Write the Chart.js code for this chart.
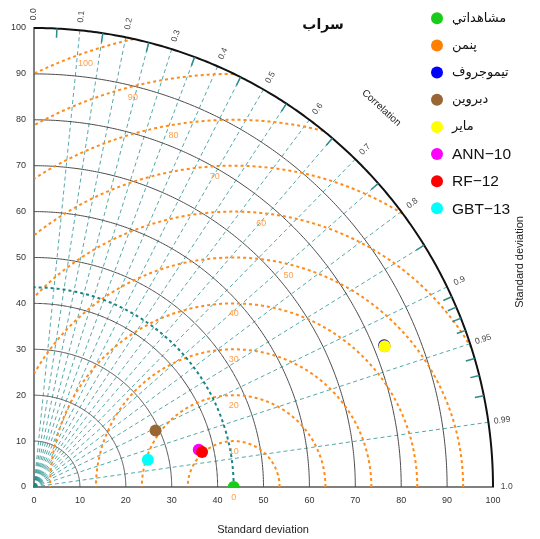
<!DOCTYPE html>
<html>
<head>
<meta charset="utf-8">
<script src="https://cdn.jsdelivr.net/npm/chart.js@4.4.1/dist/chart.umd.min.js"></script>
<style>
  html, body { margin: 0; padding: 0; background: #ffffff; }
  canvas { display: block; }
</style>
</head>
<body>
<canvas id="taylor" width="540" height="539"></canvas>
<script>
// Taylor diagram for the Sarab station: observed evaporation vs. empirical and ML models.

// ---- data ----
const seriesNames = ['مشاهداتي', 'پنمن', 'تيموجروف', 'دبروين', 'ماير', 'ANN\u221210', 'RF\u221212', 'GBT\u221213'];
const seriesColors = ['#19cc19', '#ff8000', '#0000ff', '#996633', '#ffff00', '#ff00ff', '#ff0000', '#00ffff'];
const stdDevs      = [43.5, 82.3, 82.3, 29.2, 82.3, 36.8, 37.4, 25.5];
const correlations = [1.0, 0.928, 0.927, 0.907, 0.928, 0.9755, 0.979, 0.9725];

const refStdDev = 43.5;                    // standard deviation of the observations
const maxStdDev = 100;
const sdArcValues = [10, 20, 30, 40, 50, 60, 70, 80, 90];
const rmsArcValues = [10, 20, 30, 40, 50, 60, 70, 80, 90, 100];
const rmsLabelValues = [0, 10, 20, 30, 40, 50, 60, 70, 80, 90, 100];
const corrLineValues = [0.1, 0.15, 0.2, 0.25, 0.3, 0.35, 0.4, 0.45, 0.5, 0.55, 0.6,
                        0.65, 0.7, 0.75, 0.8, 0.85, 0.9, 0.95, 0.99];
const corrTickValues = [0.05, 0.15, 0.25, 0.35, 0.45, 0.55, 0.65, 0.75, 0.85,
                        0.91, 0.92, 0.93, 0.94, 0.96, 0.97, 0.98];
const corrLabelValues = [0.0, 0.1, 0.2, 0.3, 0.4, 0.5, 0.6, 0.7, 0.8, 0.9, 0.95, 0.99, 1.0];
const corrLabelText   = ['0.0', '0.1', '0.2', '0.3', '0.4', '0.5', '0.6', '0.7', '0.8', '0.9', '0.95', '0.99', '1.0'];
const titleText = 'سراب';

// ---- layout of the RMS labels (angle around the reference point, degrees) ----
const rmsLabelAngle = { 0: 90, 10: 90, 20: 90, 30: 90, 40: 90, 50: 75.5, 60: 84, 70: 93.5, 80: 99.7, 90: 104.5, 100: 109.3 };

const DEG = Math.PI / 180;
const FONT = '"Liberation Sans", Arial, "DejaVu Sans", sans-serif';

// polar (sd, correlation) -> cartesian data coordinates
function toXY(sd, r) {
  const c = Math.max(-1, Math.min(1, r));
  return { x: sd * c, y: sd * Math.sqrt(1 - c * c) };
}

const datasets = seriesNames.map((name, i) => ({
  label: name,
  data: [toXY(stdDevs[i], correlations[i])],
  backgroundColor: seriesColors[i],
  borderColor: seriesColors[i],
  borderWidth: 0,
  pointRadius: 6,
  pointHoverRadius: 6,
  order: seriesNames.length - i
}));

const taylorGrid = {
  id: 'taylorGrid',
  beforeDatasetsDraw(chart) {
    const ctx = chart.ctx;
    const xs = chart.scales.x, ys = chart.scales.y;
    const P = (x, y) => [xs.getPixelForValue(x), ys.getPixelForValue(y)];
    const [ox, oy] = P(0, 0);

    const polyArc = (cx, cy, r, a0, a1) => {
      ctx.beginPath();
      const n = 240;
      for (let i = 0; i <= n; i++) {
        const a = a0 + (a1 - a0) * i / n;
        const [px, py] = P(cx + r * Math.cos(a), cy + r * Math.sin(a));
        if (i === 0) ctx.moveTo(px, py); else ctx.lineTo(px, py);
      }
      ctx.stroke();
    };

    ctx.save();

    // radial correlation lines
    ctx.strokeStyle = 'rgba(20,135,135,0.72)';
    ctx.lineWidth = 1;
    ctx.setLineDash([4, 3]);
    for (const c of corrLineValues) {
      const p = toXY(maxStdDev, c);
      const [px, py] = P(p.x, p.y);
      ctx.beginPath();
      ctx.moveTo(ox, oy);
      ctx.lineTo(px, py);
      ctx.stroke();
    }

    // standard deviation arcs
    ctx.setLineDash([]);
    ctx.strokeStyle = '#4a4a4a';
    ctx.lineWidth = 1;
    for (const r of sdArcValues) polyArc(0, 0, r, 0, Math.PI / 2);

    // centred RMS difference arcs around the reference point
    ctx.strokeStyle = '#ff8c1a';
    ctx.lineWidth = 2;
    ctx.setLineDash([3, 3]);
    for (const g of rmsArcValues) {
      const n = 800;
      let open = false;
      ctx.beginPath();
      for (let i = 0; i <= n; i++) {
        const a = Math.PI * i / n;
        const x = refStdDev + g * Math.cos(a), y = g * Math.sin(a);
        const ok = x >= 0 && x * x + y * y <= maxStdDev * maxStdDev;
        if (ok) {
          const [px, py] = P(x, y);
          if (!open) { ctx.moveTo(px, py); open = true; } else ctx.lineTo(px, py);
        } else open = false;
      }
      ctx.stroke();
    }

    // reference standard deviation arc
    ctx.strokeStyle = 'rgba(0,120,120,0.9)';
    ctx.lineWidth = 2;
    ctx.setLineDash([3, 3]);
    polyArc(0, 0, refStdDev, 0, Math.PI / 2);

    // outer boundary
    ctx.setLineDash([]);
    ctx.strokeStyle = '#111111';
    ctx.lineWidth = 2;
    polyArc(0, 0, maxStdDev, 0, Math.PI / 2);

    // correlation tick marks on the boundary
    ctx.strokeStyle = '#2a8c8c';
    ctx.lineWidth = 1.5;
    for (const c of corrTickValues) {
      const a = toXY(maxStdDev, c), b = toXY(maxStdDev * 0.98, c);
      const [x1, y1] = P(a.x, a.y), [x2, y2] = P(b.x, b.y);
      ctx.beginPath(); ctx.moveTo(x1, y1); ctx.lineTo(x2, y2); ctx.stroke();
    }

    // RMS labels
    ctx.fillStyle = '#ffa04a';
    ctx.font = '9px ' + FONT;
    ctx.textAlign = 'center';
    ctx.textBaseline = 'middle';
    for (const g of rmsLabelValues) {
      const a = rmsLabelAngle[g] * DEG;
      const rr = g - 2.3;
      const [px, py] = P(refStdDev + rr * Math.cos(a), rr * Math.sin(a));
      ctx.fillText(String(g), px, py);
    }

    // correlation labels
    ctx.fillStyle = '#444444';
    ctx.font = '8.5px ' + FONT;
    corrLabelValues.forEach((c, i) => {
      const th = Math.acos(c);
      const [px, py] = P(103 * Math.cos(th), 103 * Math.sin(th));
      ctx.save();
      ctx.translate(px, py);
      ctx.rotate(-th);
      ctx.fillText(corrLabelText[i], 0, 0);
      ctx.restore();
    });

    // "Correlation" along the boundary
    {
      const th = 47.5 * DEG;
      const [px, py] = P(112 * Math.cos(th), 112 * Math.sin(th));
      ctx.save();
      ctx.translate(px, py);
      ctx.rotate(Math.PI / 2 - th);
      ctx.fillStyle = '#222222';
      ctx.font = '10px ' + FONT;
      ctx.fillText('Correlation', 0, 0);
      ctx.restore();
    }

    ctx.restore();
  },
  afterDraw(chart) {
    const ctx = chart.ctx;
    ctx.save();
    ctx.textBaseline = 'middle';

    // axis titles
    ctx.fillStyle = '#222222';
    ctx.font = '11px ' + FONT;
    ctx.textAlign = 'center';
    ctx.fillText('Standard deviation', 263, 530);
    ctx.save();
    ctx.translate(520, 262);
    ctx.rotate(-Math.PI / 2);
    ctx.fillText('Standard deviation', 0, 0);
    ctx.restore();

    // title
    ctx.font = 'bold 14px "DejaVu Sans", sans-serif';
    ctx.fillStyle = '#111111';
    ctx.fillText(titleText, 323, 25);

    // legend
    const lx = 437, ly0 = 18.3, step = 27.15;
    seriesNames.forEach((name, i) => {
      const y = ly0 + i * step;
      ctx.beginPath();
      ctx.arc(lx, y, 6, 0, Math.PI * 2);
      ctx.fillStyle = seriesColors[i];
      ctx.fill();
      ctx.fillStyle = '#111111';
      ctx.textAlign = 'left';
      const latin = /[A-Za-z]/.test(name);
      ctx.font = latin ? '15.5px ' + FONT : '13px "DejaVu Serif", "DejaVu Sans", serif';
      ctx.fillText(name, 452, y + (latin ? 1 : 0));
    });
    ctx.restore();
  }
};

const axisCommon = {
  type: 'linear',
  min: 0,
  max: maxStdDev,
  grid: { display: false, drawTicks: false },
  border: { display: true, color: '#808080', width: 2 },
  ticks: {
    stepSize: 10,
    autoSkip: false,
    maxRotation: 0,
    padding: 8,
    color: '#333333',
    font: { size: 9, family: '"Liberation Sans", Arial, sans-serif' }
  }
};

new Chart(document.getElementById('taylor'), {
  type: 'scatter',
  data: { datasets },
  options: {
    responsive: false,
    animation: false,
    devicePixelRatio: 1,
    layout: { padding: { top: 28, right: 47, left: 0, bottom: 0 } },
    plugins: { legend: { display: false }, tooltip: { enabled: false }, title: { display: false } },
    scales: {
      x: Object.assign({}, axisCommon, { position: 'bottom', afterFit: s => { s.height = 52; } }),
      y: Object.assign({}, axisCommon, { position: 'left', afterFit: s => { s.width = 34; } })
    }
  },
  plugins: [taylorGrid]
});
</script>
</body>
</html>
